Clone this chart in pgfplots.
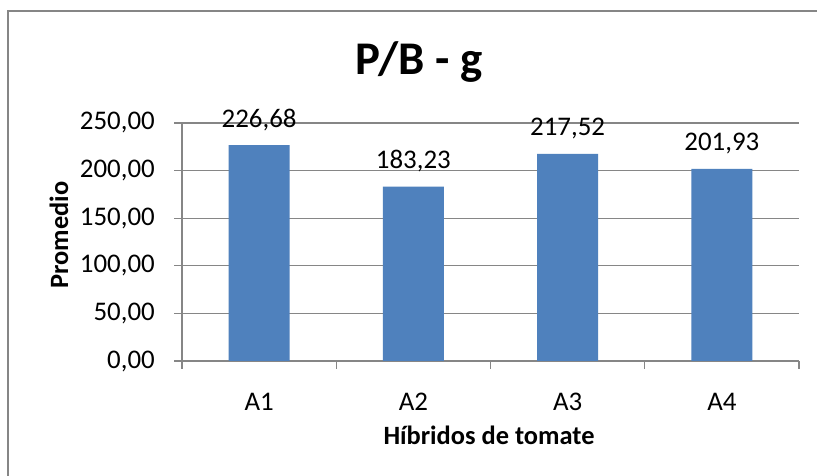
\documentclass[border=0pt]{standalone}
\usepackage{pgfplots}
\pgfplotsset{compat=1.18}
\usepackage{fontspec}
\setmainfont{Carlito}
\definecolor{barblue}{HTML}{4F81BD}
\definecolor{axgray}{HTML}{868686}
\begin{document}
\begin{tikzpicture}[x=1bp,y=1bp]
\useasboundingbox (0,0) rectangle (817,476);
\fill[white] (0,0) rectangle (817,476);
\draw[axgray, line width=1.3bp] (8,-30) -- (8,465) -- (850,465);
\begin{axis}[
  at={(182bp,115bp)}, anchor=south west,
  scale only axis, width=617bp, height=238bp,
  ymin=0, ymax=250, xmin=-0.5, xmax=3.5,
  ytick={0,50,...,250},
  xtick={0,1,2,3},
  xticklabels={A1,A2,A3,A4},
  extra x ticks={-0.5,0.5,1.5,2.5,3.5},
  extra x tick labels={},
  extra x tick style={grid=none, xtick style={draw=axgray, line width=1.3bp}},
  xtick style={draw=none},
  ytick style={draw=axgray, line width=1.3bp},
  tick align=outside,
  major tick length=8bp,
  axis lines*=left,
  axis line style={draw=axgray, line width=1.3bp},
  ymajorgrids,
  grid style={draw=axgray, line width=1.3bp},
  /pgf/number format/assume math mode=true,
  /pgf/number format/.cd, fixed, fixed zerofill, precision=2, use comma,
  /pgfplots/.cd,
  ticklabel style={font=\fontsize{27}{27}\selectfont},
  yticklabel style={anchor=east, inner sep=0pt, xshift=-19bp},
  xticklabel style={anchor=base, inner sep=0pt, yshift=-42bp},
  ybar, bar width=61bp,
  nodes near coords,
  every node near coord/.append style={font=\fontsize{27}{27}\selectfont, anchor=base, inner sep=0pt, yshift=18bp},
  clip=false,
]
\addplot[fill=barblue, draw=none, bar shift=0pt] coordinates {(0,226.68) (1,183.23) (2,217.52) (3,201.93)};
\end{axis}
\node[anchor=base, font=\fontsize{47}{47}\selectfont\bfseries] at (419,401) {P/B - g};
\node[anchor=base, rotate=90, font=\fontsize{26.5}{26.5}\selectfont\bfseries] at (68,241) {Promedio};
\node[anchor=base, font=\fontsize{26.5}{26.5}\selectfont\bfseries] at (489,31) {Híbridos de tomate};
\end{tikzpicture}
\end{document}
